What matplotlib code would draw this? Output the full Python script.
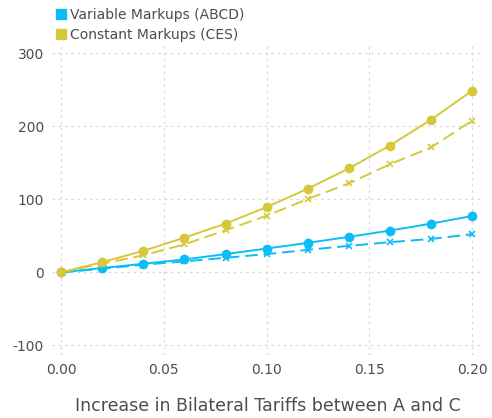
import numpy as np
import matplotlib.pyplot as plt

plt.rcParams['axes.unicode_minus'] = False

tariff = [0.00, 0.02, 0.04, 0.06, 0.08, 0.10, 0.12, 0.14, 0.16, 0.18, 0.20]
abcd_solid = [0, 5.9, 11.8, 17.7, 25.0, 32.6, 40.4, 48.6, 57.2, 66.7, 77.2]
abcd_dash = [0, 5.0, 10.5, 15.0, 20.0, 25.0, 30.8, 36.3, 41.3, 45.8, 52.2]
ces_solid = [0, 14.0, 29.5, 47.6, 66.7, 89.5, 114.5, 142.3, 173.6, 209.0, 248.7]
ces_dash = [0, 12.0, 23.3, 38.4, 57.6, 77.6, 100.4, 121.8, 148.0, 171.0, 207.8]

blue = '#0ABEF5'
yellow = '#D5C93A'
txt = '#4f4a55'

fig = plt.figure(figsize=(4.92, 4.18), dpi=100)
ax = fig.add_axes([0.106, 0.151, 0.876, 0.746])

ax.plot(tariff, abcd_solid, color=blue, lw=1.4, marker='o', ms=6, zorder=3)
ax.plot(tariff, abcd_dash, color=blue, lw=1.4, ls=(0, (6.5, 3)), marker='x', ms=3.8, mew=1.2, zorder=3)
ax.plot(tariff, ces_solid, color=yellow, lw=1.4, marker='o', ms=6, zorder=3)
ax.plot(tariff, ces_dash, color=yellow, lw=1.4, ls=(0, (6.5, 3)), marker='x', ms=3.8, mew=1.2, zorder=3)

ax.set_xlim(-0.0044, 0.2054)
ax.set_ylim(-113, 314)
ax.set_xticks([0.0, 0.05, 0.10, 0.15, 0.20])
ax.set_xticklabels(['0.00', '0.05', '0.10', '0.15', '0.20'])
ax.set_yticks([-100, 0, 100, 200, 300])
ax.grid(True, color='#d8d4e8', ls=(0, (2, 3)), lw=0.9)
for s in ax.spines.values():
    s.set_visible(False)
ax.tick_params(length=0, labelsize=10, labelcolor=txt, pad=6)
ax.set_xlabel('Increase in Bilateral Tariffs between A and C', fontsize=12.5, color=txt, labelpad=14)

# legend
h1 = plt.Line2D([], [], color=blue, marker='s', ls='none', ms=7)
h2 = plt.Line2D([], [], color=yellow, marker='s', ls='none', ms=7)
fig.legend([h1, h2], ['Variable Markups (ABCD)', 'Constant Markups (CES)'],
           loc='upper left', bbox_to_anchor=(0.095, 1.0), frameon=False,
           fontsize=10, labelcolor=txt, handletextpad=0.3, labelspacing=0.4,
           handlelength=0.8, borderaxespad=0.2)

fig.savefig('out.png', dpi=100)
